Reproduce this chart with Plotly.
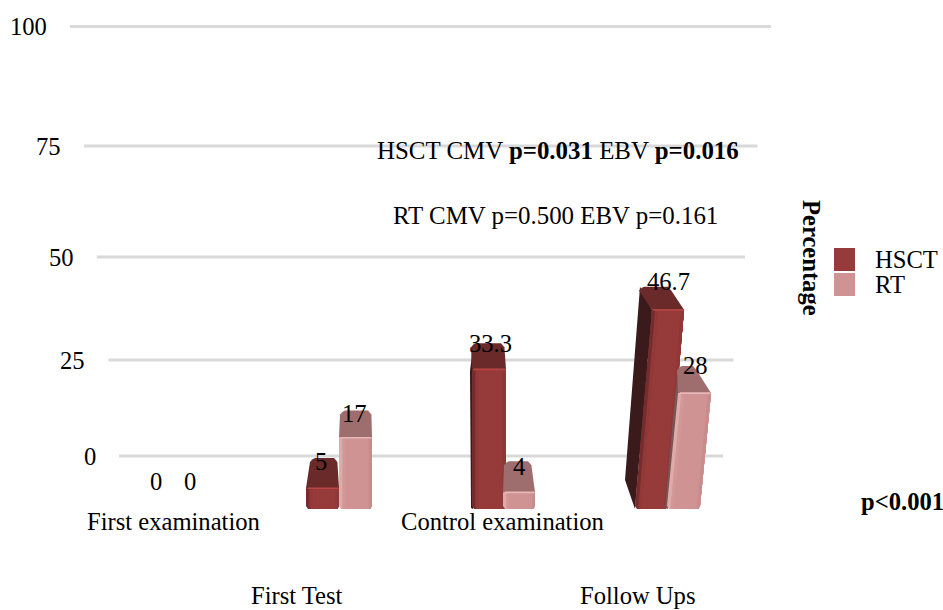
import plotly.graph_objects as go

# ---- data ----
categories = ["First examination", "First Test", "Control examination", "Follow Ups"]
series_names = ["HSCT", "RT"]
hsct_values = [0, 5, 33.3, 46.7]
rt_values = [0, 17, 4, 28]
value_ticks = [0, 25, 50, 75, 100]
note_hsct = "HSCT CMV <b>p=0.031</b> EBV <b>p=0.016</b>"
note_rt = "RT CMV p=0.500 EBV p=0.161"
note_overall = "<b>p<0.001</b>"
axis_title = "<b>Percentage</b>"

# ---- canvas / scale helpers ----
W, H = 943, 610
FONT = "Liberation Serif"
FS = 24.6
GROUP0_PX, GROUP_STEP = 173.0, 165.0
BASE_PX, PX_PER_UNIT = 509.0, 4.2


def X(px):
    return (px - GROUP0_PX) / GROUP_STEP


def Y(py):
    return (BASE_PX - py) / PX_PER_UNIT


def mix(c1, c2, t):
    return "rgb(%d,%d,%d)" % tuple(round(a + (b - a) * t) for a, b in zip(c1, c2))


# ---- pseudo-3D style per bar ----
STYLE = {
    ("HSCT", 1): dict(left=306, w=33, lean=0, dy=30, bl=5, br=-1, side=0, nudge=0),
    ("RT", 1): dict(left=339, w=33, lean=0, dy=27, bl=2, br=0, side=0, nudge=0),
    ("HSCT", 2): dict(left=472, w=34, lean=0, dy=26, bl=0, br=-1, side=2, nudge=0),
    ("RT", 2): dict(left=503, w=32, lean=0, dy=31, bl=2, br=-3, side=0, nudge=0),
    ("HSCT", 3): dict(left=635, w=32, lean=0.364, dy=23, bl=-12, br=-12, side=10, nudge=-3),
    ("RT", 3): dict(left=667, w=33, lean=0.393, dy=27, bl=0, br=-14, side=3, nudge=1.5),
}
PALETTE = {
    "HSCT": dict(front=(150, 58, 58), edge=(118, 44, 44), right=(132, 50, 50), top=(107, 42, 42),
                 glow=(186, 70, 66), side=(58, 26, 26), swatch="#963a3a"),
    "RT": dict(front=(207, 147, 147), edge=(222, 170, 170), right=(182, 130, 130), top=(158, 110, 110),
               glow=(232, 184, 184), side=(120, 86, 86), swatch="#cf9393"),
}

fig = go.Figure()


# grid on the receding wall
def wall_y(v):
    t = v / 25
    return 456 - (92.8 * t + 3.05 * t ** 2 + 0.15 * t ** 3)


def wall_l(v):
    return 119 - 0.4 * v - 0.0009 * v ** 2


def wall_r(v):
    return 723 + 0.4 * v + 0.0008 * v ** 2


gx, gy = [], []
for v in value_ticks:
    gx += [X(wall_l(v)), X(wall_r(v)), None]
    gy += [Y(wall_y(v)), Y(wall_y(v)), None]
fig.add_trace(go.Scatter(x=gx, y=gy, mode="lines", line=dict(color="#d9d9d9", width=3),
                         showlegend=False, hoverinfo="skip"))

# flat bars from the data (body of each column)
for name, vals, off in (("HSCT", hsct_values, -0.1), ("RT", rt_values, 0.1)):
    fig.add_trace(go.Bar(x=[i + off for i in range(len(categories))], y=vals, width=0.15, name=name,
                         marker=dict(color=PALETTE[name]["swatch"], line=dict(width=0)),
                         showlegend=False, hoverinfo="skip"))


def poly(xs, ys, color):
    fig.add_trace(go.Scatter(x=[X(a) for a in xs] + [X(xs[0])], y=[Y(b) for b in ys] + [Y(ys[0])],
                             mode="lines", fill="toself", fillcolor=color, line=dict(width=0),
                             showlegend=False, hoverinfo="skip"))


def draw_column(name, i, v):
    s, p = STYLE[(name, i)], PALETTE[name]
    top = BASE_PX - v * PX_PER_UNIT + s["nudge"]
    shift = v * s["lean"]
    l0, r0 = s["left"], s["left"] + s["w"]
    l1, r1 = l0 + shift, r0 + shift
    back = top - s["dy"]
    bl, br = l1 + s["bl"], r1 + s["br"]
    solid = mix(p["side"], p["side"], 0)
    # left side
    if s["side"] > 3:
        poly([l0, l0 - s["side"], bl, l1], [BASE_PX, BASE_PX - 29, back, top], solid)
    elif s["side"] > 0:
        poly([l0 - s["side"] + 1, l0 + 1, l1 + 1, bl + 1, l1 - s["side"]],
             [BASE_PX - 1, BASE_PX, top, back + 3, top + 2], solid)
    # top face with rounded back corners
    c = 4
    poly([l1, bl - 1, bl + c * 0.4, bl + c, br - c, br - 0.6, r1],
         [top, back + c, back + c * 0.3, back, back, back + c, top], mix(p["top"], p["top"], 0))
    # front face, painted left to right so that strips leave no seams
    n = 10
    for k in range(n):
        f = k / n
        if f < 0.12:
            col = mix(p["edge"], p["front"], f / 0.12)
        elif f > 0.85:
            col = mix(p["front"], p["right"], (f - 0.85) / 0.15)
        else:
            col = mix(p["front"], p["front"], 0)
        a, b = l0 + (r0 - l0) * f, l1 + (r1 - l1) * f
        a2 = a + (2 if k == 0 else 0)
        poly([a, a2, r0 - 2, r0, r1, r1, b],
             [BASE_PX - (3 if k == 0 else 0), BASE_PX, BASE_PX, BASE_PX - 3, top + 2, top, top], col)
    # highlight on the front-top edge
    poly([l1 + 2, r1 - 1, r1, l1 + 1], [top - 0.6, top - 0.6, top + 1, top + 1], mix(p["glow"], p["glow"], 0))


for i in range(1, len(categories)):
    draw_column("HSCT", i, hsct_values[i])
    draw_column("RT", i, rt_values[i])


# ---- text ----
def note(px, py, text, anchor="center", size=FS, angle=0, black="#000"):
    fig.add_annotation(x=px / W, y=1 - py / H, xref="paper", yref="paper", text=text, showarrow=False,
                       xanchor=anchor, yanchor="middle", textangle=angle,
                       font=dict(family=FONT, size=size, color=black))


for v in value_ticks:
    note(wall_l(v) - 21, wall_y(v), str(v), anchor="right")

label_px = [(156, 481), (321, 461), (490, 343), (668, 281)]
label_px_rt = [(190, 481), (354, 413), (519, 466), (695, 365)]
for (px, py), v in zip(label_px, hsct_values):
    note(px, py, str(v))
for (px, py), v in zip(label_px_rt, rt_values):
    note(px, py, str(v))

cat_pos = [(173, 521), (297, 595), (503, 521), (637, 595)]
for (px, py), c in zip(cat_pos, categories):
    note(px, py, c)

note(558, 150, note_hsct, size=24.9)
note(555, 215, note_rt, size=24.9)
note(902, 501, note_overall)
note(812, 258, axis_title, angle=90)

# legend
for (name, y0) in zip(series_names, (248, 273)):
    fig.add_shape(type="rect", xref="paper", yref="paper", x0=834 / W, x1=855 / W,
                  y0=1 - y0 / H, y1=1 - (y0 + 23) / H, fillcolor=PALETTE[name]["swatch"], line_width=0)
    note(872.5, y0 + 11, name, anchor="left")

fig.update_layout(
    width=W, height=H, margin=dict(l=0, r=0, t=0, b=0), paper_bgcolor="white", plot_bgcolor="white",
    barmode="overlay", showlegend=False,
    xaxis=dict(range=[X(0), X(W)], visible=False, fixedrange=True),
    yaxis=dict(range=[Y(H), Y(0)], visible=False, fixedrange=True),
)
fig.write_html("out.html", post_script="document.body.style.margin='0';", config=dict(displayModeBar=False))
